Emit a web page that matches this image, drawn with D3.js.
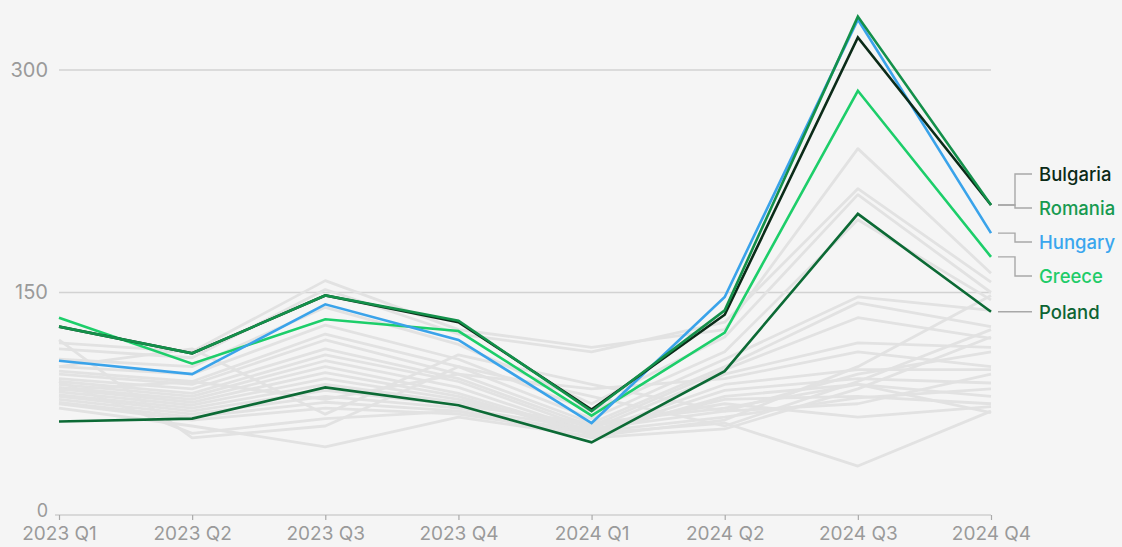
<!DOCTYPE html>
<html><head><meta charset="utf-8">
<script src="https://cdn.jsdelivr.net/npm/d3@7"></script>
<style>
html,body{margin:0;padding:0;background:#f5f5f5;}
svg{display:block;font-family:Inter, "Noto Sans", sans-serif;}
</style></head>
<body><svg id="c" width="1122" height="547"></svg>
<script>
const quarters = ["2023 Q1","2023 Q2","2023 Q3","2023 Q4","2024 Q1","2024 Q2","2024 Q3","2024 Q4"];
const yTicks = [0,150,300];

const bulgaria = [127,109,148,130,71,135,322,209];
const romania  = [127,109,148,131,70,138,336,209];
const hungary  = [104,95,142,118,62,147,334,190];
const greece   = [133,102,132,124,67,123,286,174];
const poland   = [63,65,86,74,49,97,203,137];

const others = [
  [116,110,158,125,113,125,247,163],
  [112,106,152,122,110,130,220,157],
  [105,100,140,115,75,120,216,150],
  [100,95,128,105,70,110,199,145],
  [97,90,122,100,65,105,147,138],
  [95,88,118,95,62,100,143,127],
  [92,85,112,92,60,98,133,119],
  [90,82,108,90,58,95,116,113],
  [88,80,104,86,56,88,98,98],
  [86,78,100,82,55,84,92,89],
  [85,76,96,80,54,80,88,80],
  [83,74,92,78,57,78,80,75],
  [81,72,88,76,60,75,66,73],
  [80,70,84,74,62,72,88,69],
  [78,68,80,72,58,70,95,110],
  [76,66,76,70,56,66,79,85],
  [75,64,72,68,55,62,33,70],
  [118,52,60,100,80,60,90,125],
  [90,55,65,70,52,58,85,120],
  [72,60,46,66,53,64,100,148],
  [100,112,68,108,88,70,75,95],
  [84,90,78,95,85,92,110,100]
];

const highlighted = [
  {name:"Poland",   values:poland,   color:"#0c6a35", text:"#0d6433"},
  {name:"Greece",   values:greece,   color:"#1dce6a", text:"#1fcc69"},
  {name:"Hungary",  values:hungary,  color:"#3aa3ea", text:"#3aa6ee"},
  {name:"Bulgaria", values:bulgaria, color:"#0b2b18", text:"#0b2a17"},
  {name:"Romania",  values:romania,  color:"#13904a", text:"#179a50"}
];

const svg = d3.select("#c");
const x = d3.scalePoint().domain(quarters).range([59,991]);
const y = d3.scaleLinear().domain([0,300]).range([515,70]);

// gridlines
svg.append("g").selectAll("line").data(yTicks.filter(d=>d>0)).join("line")
  .attr("x1",59).attr("x2",991).attr("y1",d=>y(d)).attr("y2",d=>y(d))
  .attr("stroke","#d2d2d2").attr("stroke-width",1.5);

// y labels
svg.append("g").selectAll("text").data(yTicks).join("text")
  .attr("x",48).attr("y",d=>d===0?y(d)-4:y(d)).attr("dy","0.34em").attr("text-anchor","end")
  .attr("font-size",d=>d===0?18:20).attr("fill","#9a9a9a").text(d=>d);

// x axis
const xAxis = d3.axisBottom(x).tickSize(5).tickPadding(7);
const gx = svg.append("g").attr("transform",`translate(0,${y(0)})`).call(xAxis);
gx.select(".domain").attr("stroke","#cfcfcf").attr("stroke-width",1.5).attr("d",`M55,0H991`);
gx.selectAll(".tick line").attr("stroke","#aaa").attr("stroke-width",1.2);
gx.selectAll(".tick text").attr("font-size",19).attr("fill","#9a9a9a").attr("font-family","Inter, 'Noto Sans', sans-serif");

const line = d3.line().x((d,i)=>x(quarters[i])).y(d=>y(d));

svg.append("g").selectAll("path").data(others).join("path")
  .attr("d",line).attr("fill","none").attr("stroke","#e2e2e2").attr("stroke-width",2.8)
  .attr("stroke-linejoin","round");

svg.append("g").selectAll("path").data(highlighted).join("path")
  .attr("d",d=>line(d.values)).attr("fill","none").attr("stroke",d=>d.color)
  .attr("stroke-width",2.6).attr("stroke-linejoin","miter");

// labels with cluster layout
const spacing = 34;
let items = highlighted.map(d=>({...d, target:y(d.values[d.values.length-1])}));
items.sort((a,b)=>a.target-b.target || (a.name==="Bulgaria"?-1:1));
let clusters = items.map(d=>({members:[d]}));
function place(c){const m=d3.mean(c.members,d=>d.target);const n=c.members.length;c.members.forEach((d,i)=>d.ly=m+(i-(n-1)/2)*spacing);}
clusters.forEach(place);
let changed=true;
while(changed){changed=false;
  for(let i=0;i<clusters.length-1;i++){
    const a=clusters[i],b=clusters[i+1];
    const aLast=a.members[a.members.length-1].ly, bFirst=b.members[0].ly;
    if(bFirst-aLast<spacing){a.members=a.members.concat(b.members);clusters.splice(i+1,1);place(a);changed=true;break;}
  }
}
const lg = svg.append("g");
const x0 = 998, xm = 1015, x1 = 1032;
items.forEach(d=>{
  lg.append("path").attr("d",`M${x0},${d.target}H${xm}V${d.ly}H${x1}`)
    .attr("fill","none").attr("stroke","#a8a8a8").attr("stroke-width",1.4);
  lg.append("text").attr("x",1039).attr("y",d.ly+1).attr("dy","0.35em")
    .attr("font-size",18.5).attr("font-weight",500).attr("fill",d.text).text(d.name);
});
</script></body></html>
